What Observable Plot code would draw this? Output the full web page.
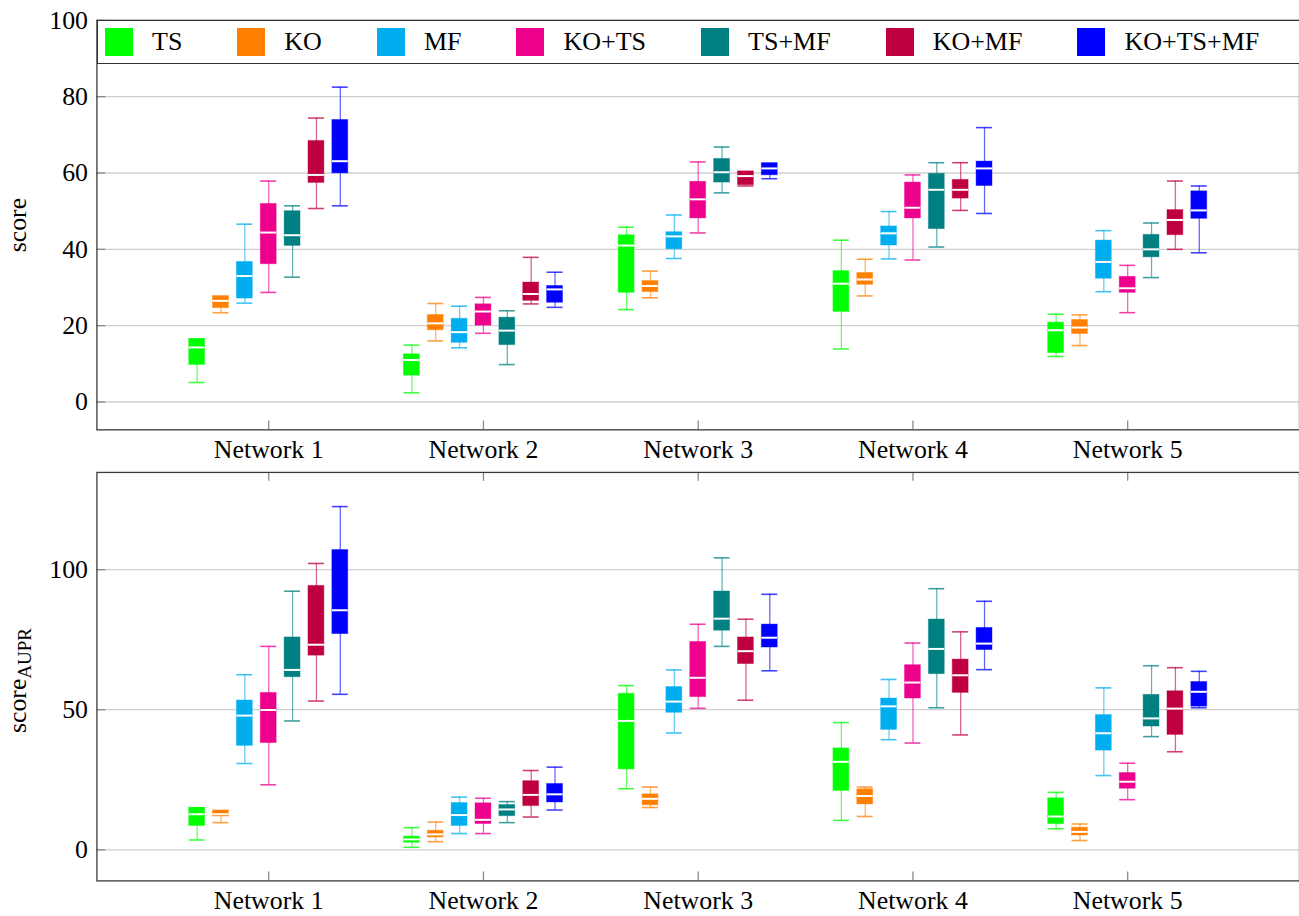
<!DOCTYPE html>
<html><head><meta charset="utf-8">
<script src="https://cdn.jsdelivr.net/npm/d3@7"></script>
<script src="https://cdn.jsdelivr.net/npm/@observablehq/plot@0.6"></script>
<style>
body{margin:0;background:#fff;overflow:hidden;font-family:"Liberation Serif",serif;}
#wrap{position:relative;width:1299px;height:916px;overflow:hidden;}
#top,#bottom{position:absolute;left:0;}
#top{top:0;z-index:2}#bottom{top:460px;z-index:1}
#wrap svg{overflow:visible}
#wrap svg text{font-family:"Liberation Serif",serif !important;}
#legend{position:absolute;z-index:3;left:97px;top:20px;width:1220px;height:44px;border:1.3px solid #333;background:#fff;display:flex;align-items:center;box-sizing:border-box;padding-left:7px;font-size:26px;color:#000;font-family:"Liberation Serif",serif}
.item{display:flex;align-items:center;margin-right:55px}
.sw{width:28px;height:28px;margin-right:19px}
</style></head>
<body><div id="wrap"><div id="top"></div><div id="bottom"></div><div id="legend"></div></div>
<script>
const networks = ["Network 1","Network 2","Network 3","Network 4","Network 5"];
const methods = ["TS","KO","MF","KO+TS","TS+MF","KO+MF","KO+TS+MF"];
const colors = ["#00ff00","#ff8000","#00aeef","#ec008c","#008080","#bf0040","#0000ff"];
const scoreTicks = [0,20,40,60,80,100];
const auprTicks = [0,50,100];

// [min, q1, median, q3, max] per network
const score_TS      = [[5.1,9.7,14.3,16.5,16.5],[2.4,6.9,11.0,12.5,14.9],[24.2,28.6,41.0,43.7,45.8],[13.9,23.6,31.0,34.3,42.4],[11.9,12.8,18.8,20.8,23.0]];
const score_KO      = [[23.4,24.6,26.5,27.7,27.7],[16.0,18.8,20.6,22.8,25.8],[27.3,28.8,30.4,31.7,34.3],[27.8,30.7,32.1,33.8,37.4],[14.8,17.8,19.5,21.5,22.8]];
const score_MF      = [[25.9,27.1,33.0,36.7,46.6],[14.2,15.5,18.3,21.8,25.1],[37.6,40.0,43.4,44.5,49.0],[37.5,41.0,44.2,46.0,49.9],[28.9,32.3,36.7,42.3,44.9]];
const score_KOTS    = [[28.7,36.1,44.4,51.9,57.9],[18.0,20.0,23.7,25.6,27.4],[44.3,48.1,53.1,57.7,62.9],[37.2,48.1,50.9,57.5,59.5],[23.4,28.6,29.8,32.8,35.8]];
const score_TSMF    = [[32.7,40.9,43.7,50.0,51.4],[9.8,14.9,18.7,22.1,23.9],[54.8,57.5,60.2,63.7,66.8],[40.6,45.3,55.6,59.8,62.7],[32.6,37.9,40.0,43.8,46.9]];
const score_KOMF    = [[50.7,57.4,59.5,68.4,74.4],[25.7,26.5,28.3,31.3,37.9],[56.6,56.8,59.2,60.4,60.4],[50.2,53.3,55.6,58.2,62.7],[40.0,43.7,47.7,50.3,57.9]];
const score_KOTSMF  = [[51.4,59.9,63.1,73.9,82.5],[24.8,26.0,29.5,30.4,34.0],[58.5,59.4,61.2,62.5,62.6],[49.4,56.6,61.2,63.0,71.9],[39.1,48.0,50.2,55.2,56.6]];

const aupr_TS       = [[3.5,8.5,12.7,15.0,15.0],[0.9,2.5,3.7,4.7,7.9],[21.8,28.7,46.0,55.7,58.6],[10.5,21.0,31.4,36.2,45.4],[7.5,9.2,11.9,18.4,20.5]];
const aupr_KO       = [[9.7,11.9,12.7,14.0,14.0],[2.9,4.4,5.5,6.8,9.9],[15.1,15.9,18.2,19.8,22.4],[11.9,16.2,19.2,21.6,22.4],[3.3,5.1,6.4,7.9,9.2]];
const aupr_MF       = [[30.8,37.1,47.9,53.3,62.5],[5.8,8.5,12.4,16.7,18.8],[41.7,48.9,52.9,58.1,64.2],[39.3,42.8,51.2,54.0,60.8],[26.5,35.4,41.6,48.1,57.8]];
const aupr_KOTS     = [[23.2,38.1,49.9,56.0,72.6],[5.8,9.2,10.7,16.6,18.4],[50.5,54.5,61.4,74.2,80.5],[38.1,54.0,59.7,65.9,73.8],[17.9,21.8,24.3,27.4,30.9]];
const aupr_TSMF     = [[46.0,61.6,64.2,75.8,92.3],[9.7,12.0,14.4,16.0,17.2],[72.6,78.2,82.5,92.2,104.2],[50.7,62.7,71.7,82.2,93.2],[40.4,44.0,46.9,55.3,65.7]];
const aupr_KOMF     = [[53.1,69.3,73.2,94.2,102.2],[11.7,15.6,19.6,24.5,28.3],[53.4,66.3,70.9,75.8,82.3],[41.0,56.0,62.3,67.9,77.8],[35.0,41.0,50.4,56.6,65.0]];
const aupr_KOTSMF   = [[55.5,77.0,85.5,107.0,122.5],[14.2,16.9,19.8,23.5,29.5],[63.9,72.2,75.7,80.4,91.2],[64.3,71.3,73.6,79.2,88.7],[50.7,51.1,56.4,59.9,63.7]];

const scoreStats = [score_TS,score_KO,score_MF,score_KOTS,score_TSMF,score_KOMF,score_KOTSMF];
const auprStats  = [aupr_TS,aupr_KO,aupr_MF,aupr_KOTS,aupr_TSMF,aupr_KOMF,aupr_KOTSMF];

const STEP = 24/216, HALF = 8/216, TICK = 9;
const WIDTH = 1307, ML = 97;

function panel(stats, opts) {
  const rows = [];
  methods.forEach((m, j) => stats[j].forEach((s, i) => rows.push({net: i + 1, j, method: m, min: s[0], q1: s[1], med: s[2], q3: s[3], max: s[4]})));
  const pos = d => d.net + (d.j - 3) * STEP;
  const left = d => pos(d) - HALF, right = d => pos(d) + HALF;
  const netIdx = networks.map((_, i) => i + 1);
  const innerH = opts.height - opts.marginTop - opts.marginBottom;
  const innerW = WIDTH - ML;
  const svg = Plot.plot({
    width: WIDTH, height: opts.height,
    marginLeft: ML, marginRight: 0, marginTop: opts.marginTop, marginBottom: opts.marginBottom,
    style: {fontFamily: "Liberation Serif", fontSize: "26px", color: "#000", background: "transparent", overflow: "visible"},
    x: {domain: [0.2, 5.8]},
    y: {domain: opts.yDomain},
    color: {domain: methods, range: colors},
    marks: [
      Plot.gridY(opts.ticks, {stroke: "#d0d0d0", strokeOpacity: 1, strokeWidth: 1.3}),
      Plot.ruleY(opts.ticks, {y: d => d, insetRight: innerW - TICK, stroke: "#8a8a8a", strokeWidth: 1.3}),
      Plot.ruleX(netIdx, {x: d => d, insetTop: innerH - TICK, stroke: "#8a8a8a", strokeWidth: 1.3}),
      Plot.ruleX(netIdx, {x: d => d, insetBottom: innerH - TICK, stroke: "#8a8a8a", strokeWidth: 1.3}),
      Plot.axisY(opts.ticks, {tickSize: 0, tickPadding: 9, label: null}),
      Plot.axisX(netIdx, {tickSize: 0, tickPadding: 10, tickFormat: i => networks[i - 1], label: null}),
      Plot.text([opts.label], {frameAnchor: "left", textAnchor: "middle", rotate: -90, dx: -80, dy: opts.sub ? 4 : 0, text: d => d, fontSize: 26}),
      Plot.ruleX(rows, {x: pos, y1: "min", y2: "max", stroke: "method", strokeOpacity: 0.6, strokeWidth: 1.3}),
      Plot.ruleY(rows, {y: "min", x1: left, x2: right, stroke: "method", strokeOpacity: 0.75, strokeWidth: 1.6}),
      Plot.ruleY(rows, {y: "max", x1: left, x2: right, stroke: "method", strokeOpacity: 0.75, strokeWidth: 1.6}),
      Plot.rect(rows, {x1: left, x2: right, y1: "q1", y2: "q3", fill: "method", stroke: "method", strokeOpacity: 0.4, strokeWidth: 1}),
      Plot.ruleY(rows, {y: "med", x1: left, x2: right, stroke: "#fff", strokeWidth: 2}),
      Plot.frame({stroke: "#3a3a3a", strokeWidth: 1.3})
    ]
  });
  if (opts.sub) {
    const t = d3.select(svg).selectAll("text").filter(function() {
      return this.textContent === opts.label && (this.getAttribute("transform") || "").includes("rotate");
    });
    t.text(null);
    t.append("tspan").text(opts.label);
    t.append("tspan").attr("dy", "0.3em").attr("font-size", "19px").text(opts.sub);
  }
  return svg;
}

document.getElementById("top").appendChild(panel(scoreStats, {
  height: 460, marginTop: 20, marginBottom: 28, yDomain: [-7.3, 100], ticks: scoreTicks, label: "score"
}));
document.getElementById("bottom").appendChild(panel(auprStats, {
  height: 456, marginTop: 12, marginBottom: 33, yDomain: [-11.1, 134.7], ticks: auprTicks, label: "score", sub: "AUPR"
}));

const legend = d3.select("#legend");
methods.forEach((m, i) => {
  const it = legend.append("div").attr("class", "item");
  it.append("div").attr("class", "sw").style("background", colors[i]);
  it.append("span").text(m);
});
</script></body></html>
